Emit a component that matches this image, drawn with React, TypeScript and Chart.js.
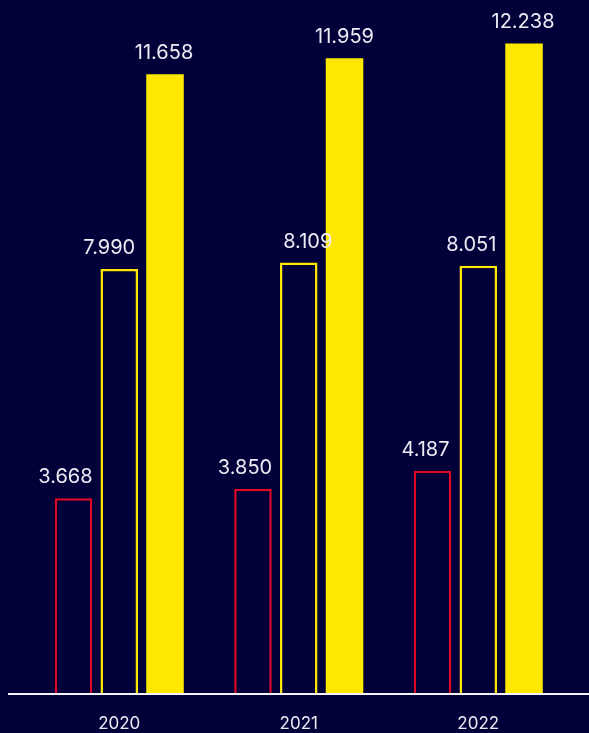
import React, { useEffect, useRef } from "react";
import { Chart, registerables } from "chart.js";

Chart.register(...registerables);

const categories = ["2020", "2021", "2022"];
const redOutlineValues = [3.668, 3.85, 4.187];
const yellowOutlineValues = [7.99, 8.109, 8.051];
const yellowFilledValues = [11.658, 11.959, 12.238];

const NAVY = "#020038";
const YELLOW = "#FFE800";
const RED = "#DC0A24";
const TEXT = "#ECEBF4";

// small per-label horizontal nudges (dataset -> category)
const labelNudge = [
  [-8, -8, -7],
  [-10, 9, -7],
  [-1, 0, -1],
];

const bgPlugin = {
  id: "bgFill",
  beforeDraw(chart: any) {
    const { ctx, width, height } = chart;
    ctx.save();
    ctx.fillStyle = NAVY;
    ctx.fillRect(0, 0, width, height);
    ctx.restore();
  },
};

const overlayPlugin = {
  id: "overlay",
  afterDatasetsDraw(chart: any) {
    const { ctx, width, chartArea } = chart;
    ctx.save();
    // baseline
    ctx.fillStyle = "#F4F2FF";
    ctx.fillRect(8, chartArea.bottom, width - 8, 2);
    // value labels
    ctx.font = "20px Inter";
    ctx.fillStyle = TEXT;
    ctx.textAlign = "center";
    ctx.textBaseline = "alphabetic";
    chart.data.datasets.forEach((ds: any, di: number) => {
      const meta = chart.getDatasetMeta(di);
      meta.data.forEach((el: any, i: number) => {
        const v = ds.data[i] as number;
        ctx.fillText(v.toFixed(3), el.x + labelNudge[di][i], el.y - 15);
      });
    });
    ctx.restore();
  },
};

export default function App() {
  const ref = useRef<HTMLCanvasElement | null>(null);

  useEffect(() => {
    document.body.style.margin = "0";
    document.body.style.background = NAVY;
    document.body.style.overflow = "hidden";
    if (!ref.current) return;
    const common = { categoryPercentage: 0.765, barPercentage: 0.82 };
    const chart = new Chart(ref.current, {
      type: "bar",
      data: {
        labels: categories,
        datasets: [
          {
            data: redOutlineValues,
            backgroundColor: NAVY,
            borderColor: RED,
            borderWidth: 2.5,
            ...common,
          },
          {
            data: yellowOutlineValues,
            backgroundColor: NAVY,
            borderColor: YELLOW,
            borderWidth: 2.5,
            ...common,
          },
          {
            data: yellowFilledValues,
            backgroundColor: YELLOW,
            borderWidth: 0,
            ...common,
          },
        ],
      },
      options: {
        animation: false,
        responsive: true,
        maintainAspectRatio: false,
        layout: { padding: { left: 29.5, right: 21, top: 3, bottom: 1 } },
        plugins: {
          legend: { display: false },
          tooltip: { enabled: false },
        },
        scales: {
          x: {
            grid: { display: false, drawTicks: false },
            border: { display: false },
            ticks: {
              color: TEXT,
              font: { family: "Inter", size: 17 },
              padding: 21,
            },
            afterFit(scale: any) {
              scale.height = 39;
            },
          },
          y: {
            display: false,
            min: 0,
            max: 13,
          },
        },
      },
      plugins: [bgPlugin, overlayPlugin],
    });
    return () => chart.destroy();
  }, []);

  return (
    <div style={{ position: "relative", width: 589, height: 733 }}>
      <canvas ref={ref} />
    </div>
  );
}
